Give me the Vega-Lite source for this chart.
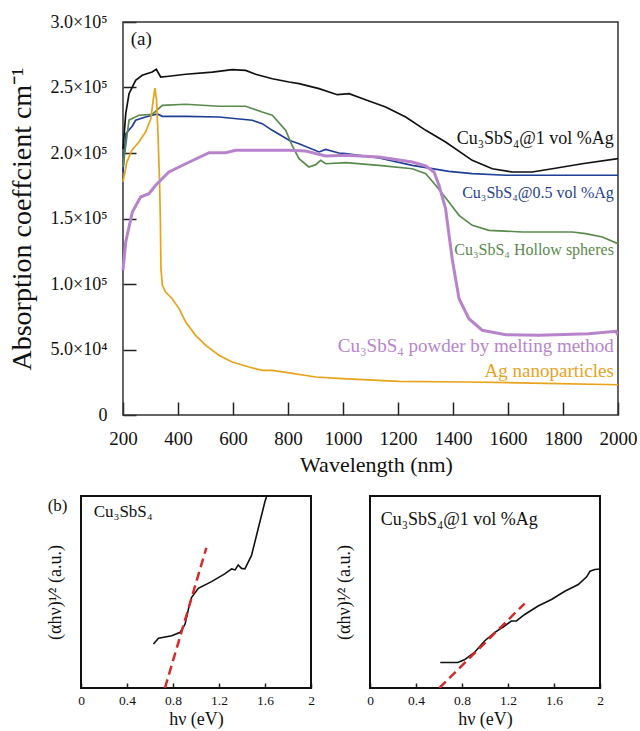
{
  "$schema": "https://vega.github.io/schema/vega-lite/v6.json",
  "background": "white",
  "padding": {"left": 8, "top": 13, "right": 0, "bottom": 0},
  "spacing": 20,
  "config": {
    "font": "Liberation Serif",
    "view": {"stroke": null},
    "axis": {"grid": false, "domain": false, "labelFont": "Liberation Serif", "titleFont": "Liberation Serif", "titleFontWeight": "normal", "labelColor": "#111", "titleColor": "#111", "tickColor": "#222", "labelFlush": false, "labelOverlap": false}
  },
  "datasets": {
    "spectra": [
      {"s": "k", "wl": 200, "a": 203000}, {"s": "k", "wl": 210, "a": 230000}, {"s": "k", "wl": 222, "a": 245300}, {"s": "k", "wl": 246, "a": 255500}, {"s": "k", "wl": 270, "a": 259300}, {"s": "k", "wl": 306, "a": 261800}, {"s": "k", "wl": 321, "a": 263900}, {"s": "k", "wl": 337, "a": 258000}, {"s": "k", "wl": 367, "a": 258600}, {"s": "k", "wl": 428, "a": 260100}, {"s": "k", "wl": 525, "a": 261800}, {"s": "k", "wl": 597, "a": 263600}, {"s": "k", "wl": 646, "a": 263100}, {"s": "k", "wl": 682, "a": 260100}, {"s": "k", "wl": 743, "a": 256700}, {"s": "k", "wl": 804, "a": 254200}, {"s": "k", "wl": 840, "a": 252900}, {"s": "k", "wl": 913, "a": 249100}, {"s": "k", "wl": 979, "a": 244500}, {"s": "k", "wl": 1022, "a": 245300}, {"s": "k", "wl": 1082, "a": 240700}, {"s": "k", "wl": 1155, "a": 235100}, {"s": "k", "wl": 1228, "a": 227500}, {"s": "k", "wl": 1301, "a": 217300}, {"s": "k", "wl": 1373, "a": 208400}, {"s": "k", "wl": 1470, "a": 194400}, {"s": "k", "wl": 1543, "a": 188000}, {"s": "k", "wl": 1616, "a": 185500}, {"s": "k", "wl": 1688, "a": 185500}, {"s": "k", "wl": 1761, "a": 188000}, {"s": "k", "wl": 1870, "a": 191800}, {"s": "k", "wl": 2000, "a": 195700},
      {"s": "b", "wl": 200, "a": 185500}, {"s": "b", "wl": 210, "a": 214700}, {"s": "b", "wl": 234, "a": 220600}, {"s": "b", "wl": 246, "a": 225000}, {"s": "b", "wl": 282, "a": 227500}, {"s": "b", "wl": 325, "a": 229800}, {"s": "b", "wl": 343, "a": 228000}, {"s": "b", "wl": 428, "a": 228000}, {"s": "b", "wl": 549, "a": 227500}, {"s": "b", "wl": 670, "a": 225000}, {"s": "b", "wl": 706, "a": 222400}, {"s": "b", "wl": 743, "a": 217300}, {"s": "b", "wl": 804, "a": 209700}, {"s": "b", "wl": 840, "a": 207100}, {"s": "b", "wl": 913, "a": 200800}, {"s": "b", "wl": 937, "a": 202700}, {"s": "b", "wl": 985, "a": 200000}, {"s": "b", "wl": 1010, "a": 199500}, {"s": "b", "wl": 1131, "a": 196200}, {"s": "b", "wl": 1252, "a": 190600}, {"s": "b", "wl": 1385, "a": 186000}, {"s": "b", "wl": 1470, "a": 184200}, {"s": "b", "wl": 1592, "a": 183000}, {"s": "b", "wl": 2000, "a": 183000},
      {"s": "g", "wl": 200, "a": 189300}, {"s": "g", "wl": 222, "a": 225200}, {"s": "g", "wl": 258, "a": 228800}, {"s": "g", "wl": 306, "a": 229500}, {"s": "g", "wl": 343, "a": 236400}, {"s": "g", "wl": 428, "a": 237200}, {"s": "g", "wl": 549, "a": 235700}, {"s": "g", "wl": 646, "a": 235700}, {"s": "g", "wl": 706, "a": 231300}, {"s": "g", "wl": 743, "a": 228800}, {"s": "g", "wl": 792, "a": 217300}, {"s": "g", "wl": 814, "a": 206100}, {"s": "g", "wl": 840, "a": 195700}, {"s": "g", "wl": 876, "a": 189300}, {"s": "g", "wl": 901, "a": 191100}, {"s": "g", "wl": 919, "a": 194400}, {"s": "g", "wl": 937, "a": 191800}, {"s": "g", "wl": 1010, "a": 192600}, {"s": "g", "wl": 1131, "a": 190600}, {"s": "g", "wl": 1252, "a": 188000}, {"s": "g", "wl": 1301, "a": 184200}, {"s": "g", "wl": 1337, "a": 175400}, {"s": "g", "wl": 1385, "a": 162600}, {"s": "g", "wl": 1422, "a": 152400}, {"s": "g", "wl": 1470, "a": 144800}, {"s": "g", "wl": 1531, "a": 141000}, {"s": "g", "wl": 1652, "a": 139700}, {"s": "g", "wl": 1834, "a": 139700}, {"s": "g", "wl": 1882, "a": 138400}, {"s": "g", "wl": 1943, "a": 135900}, {"s": "g", "wl": 2000, "a": 130800},
      {"s": "o", "wl": 200, "a": 177900}, {"s": "o", "wl": 214, "a": 193100}, {"s": "o", "wl": 233, "a": 202300}, {"s": "o", "wl": 258, "a": 208400}, {"s": "o", "wl": 282, "a": 216000}, {"s": "o", "wl": 301, "a": 226000}, {"s": "o", "wl": 309, "a": 239000}, {"s": "o", "wl": 316, "a": 249600}, {"s": "o", "wl": 322, "a": 240500}, {"s": "o", "wl": 327, "a": 216000}, {"s": "o", "wl": 333, "a": 177900}, {"s": "o", "wl": 336, "a": 147300}, {"s": "o", "wl": 338, "a": 111700}, {"s": "o", "wl": 343, "a": 99200}, {"s": "o", "wl": 355, "a": 93900}, {"s": "o", "wl": 379, "a": 88800}, {"s": "o", "wl": 404, "a": 81200}, {"s": "o", "wl": 428, "a": 71000}, {"s": "o", "wl": 464, "a": 60800}, {"s": "o", "wl": 501, "a": 53200}, {"s": "o", "wl": 549, "a": 45600}, {"s": "o", "wl": 597, "a": 40500}, {"s": "o", "wl": 658, "a": 36600}, {"s": "o", "wl": 706, "a": 34100}, {"s": "o", "wl": 743, "a": 34100}, {"s": "o", "wl": 804, "a": 32100}, {"s": "o", "wl": 901, "a": 29000}, {"s": "o", "wl": 997, "a": 27700}, {"s": "o", "wl": 1204, "a": 25700}, {"s": "o", "wl": 1446, "a": 25200}, {"s": "o", "wl": 1688, "a": 24400}, {"s": "o", "wl": 2000, "a": 23100},
      {"s": "p", "wl": 200, "a": 110500}, {"s": "p", "wl": 210, "a": 132100}, {"s": "p", "wl": 234, "a": 155000}, {"s": "p", "wl": 264, "a": 166400}, {"s": "p", "wl": 294, "a": 168900}, {"s": "p", "wl": 319, "a": 175400}, {"s": "p", "wl": 367, "a": 185500}, {"s": "p", "wl": 428, "a": 191800}, {"s": "p", "wl": 513, "a": 200200}, {"s": "p", "wl": 573, "a": 200200}, {"s": "p", "wl": 610, "a": 202100}, {"s": "p", "wl": 804, "a": 202100}, {"s": "p", "wl": 864, "a": 201500}, {"s": "p", "wl": 937, "a": 197700}, {"s": "p", "wl": 1010, "a": 198300}, {"s": "p", "wl": 1131, "a": 197000}, {"s": "p", "wl": 1252, "a": 193100}, {"s": "p", "wl": 1301, "a": 190100}, {"s": "p", "wl": 1331, "a": 185500}, {"s": "p", "wl": 1349, "a": 175400}, {"s": "p", "wl": 1373, "a": 157500}, {"s": "p", "wl": 1397, "a": 119300}, {"s": "p", "wl": 1422, "a": 88800}, {"s": "p", "wl": 1458, "a": 73500}, {"s": "p", "wl": 1506, "a": 64700}, {"s": "p", "wl": 1592, "a": 61300}, {"s": "p", "wl": 1713, "a": 60800}, {"s": "p", "wl": 1894, "a": 62100}, {"s": "p", "wl": 1992, "a": 63900}, {"s": "p", "wl": 2000, "a": 61100}
    ],
    "labels": [
      {"s": "k", "t": "Cu₃SbS₄@1 vol %Ag", "wl": 1985, "a": 210700},
      {"s": "b", "t": "Cu₃SbS₄@0.5 vol %Ag", "wl": 1985, "a": 169500},
      {"s": "g", "t": "Cu₃SbS₄ Hollow spheres", "wl": 1985, "a": 126000},
      {"s": "p", "t": "Cu₃SbS₄  powder by melting method", "wl": 1985, "a": 52700},
      {"s": "o", "t": "Ag nanoparticles", "wl": 1985, "a": 33600}
    ],
    "panelA": [{"t": "(a)", "wl": 228, "a": 287300}],
    "tauc1": [
      {"hv": 0.63, "v": 0.229}, {"hv": 0.674, "v": 0.259}, {"hv": 0.79, "v": 0.272}, {"hv": 0.862, "v": 0.29}, {"hv": 0.905, "v": 0.333}, {"hv": 0.934, "v": 0.411}, {"hv": 0.962, "v": 0.472}, {"hv": 1.02, "v": 0.519}, {"hv": 1.135, "v": 0.554}, {"hv": 1.25, "v": 0.594}, {"hv": 1.31, "v": 0.62}, {"hv": 1.34, "v": 0.615}, {"hv": 1.367, "v": 0.641}, {"hv": 1.396, "v": 0.623}, {"hv": 1.425, "v": 0.62}, {"hv": 1.482, "v": 0.689}, {"hv": 1.54, "v": 0.828}, {"hv": 1.598, "v": 0.967}, {"hv": 1.64, "v": 1.05}
    ],
    "fit1": [{"hv": 0.73, "v": 0}, {"hv": 1.09, "v": 0.73}],
    "note1": [{"t": "Cu₃SbS₄", "hv": 0.11, "v": 0.917}, {"t": "(b)", "hv": -0.29, "v": 0.95}],
    "tauc2": [
      {"hv": 0.611, "v": 0.133}, {"hv": 0.763, "v": 0.133}, {"hv": 0.821, "v": 0.147}, {"hv": 0.908, "v": 0.185}, {"hv": 0.996, "v": 0.245}, {"hv": 1.083, "v": 0.288}, {"hv": 1.17, "v": 0.323}, {"hv": 1.229, "v": 0.349}, {"hv": 1.273, "v": 0.349}, {"hv": 1.345, "v": 0.383}, {"hv": 1.462, "v": 0.427}, {"hv": 1.578, "v": 0.461}, {"hv": 1.694, "v": 0.504}, {"hv": 1.811, "v": 0.539}, {"hv": 1.884, "v": 0.579}, {"hv": 1.913, "v": 0.608}, {"hv": 1.956, "v": 0.617}, {"hv": 2.0, "v": 0.62}
    ],
    "fit2": [{"hv": 0.603, "v": 0}, {"hv": 1.345, "v": 0.44}],
    "note2": [{"t": "Cu₃SbS₄@1 vol %Ag", "hv": 0.093, "v": 0.876}]
  },
  "vconcat": [
    {
      "width": 537,
      "height": 393,
      "layer": [
        {"data": {"values": [{}]},
          "mark": {"type": "rect", "filled": false, "stroke": "#333", "strokeWidth": 1.5},
          "encoding": {"x": {"datum": 200, "type": "quantitative"}, "x2": {"datum": 2000}, "y": {"datum": 0, "type": "quantitative"}, "y2": {"datum": 300000}}},
        {"data": {"name": "spectra"}, "transform": [{"filter": "datum.s != 'p'"}],
          "mark": {"type": "line", "strokeWidth": 1.7, "clip": true},
          "encoding": {
            "x": {"field": "wl", "type": "quantitative", "scale": {"domain": [47.3, 2000], "nice": false, "zero": false},
              "axis": {"title": "Wavelength (nm)", "titleX": 295, "values": [200, 400, 600, 800, 1000, 1200, 1400, 1600, 1800, 2000], "format": "d", "tickSize": -13, "tickWidth": 1.5, "labelFontSize": 19, "labelPadding": 27, "titleFontSize": 22, "titlePadding": 6, "labelOverlap": false}},
            "y": {"field": "a", "type": "quantitative", "scale": {"domain": [0, 300000], "nice": false},
              "axis": {"title": "Absorption coeffcient cm⁻¹", "offset": -42, "values": [0, 50000, 100000, 150000, 200000, 250000, 300000], "labelExpr": "datum.value == 0 ? '0' : (datum.value < 100000 ? format(datum.value / 10000, '.1f') + '×10⁴' : format(datum.value / 100000, '.1f') + '×10⁵')", "tickSize": -13, "tickWidth": 1.5, "labelFontSize": 18, "labelPadding": 29, "titleFontSize": 28, "titlePadding": 14, "labelOverlap": false}},
            "color": {"field": "s", "type": "nominal", "scale": {"domain": ["k", "b", "g", "p", "o"], "range": ["#111111", "#1f3f96", "#5a8a4c", "#b784cc", "#e8a31c"]}, "legend": null}}},
        {"data": {"name": "spectra"}, "transform": [{"filter": "datum.s == 'p'"}],
          "mark": {"type": "line", "strokeWidth": 3, "clip": true},
          "encoding": {"x": {"field": "wl", "type": "quantitative"}, "y": {"field": "a", "type": "quantitative"}, "color": {"field": "s", "type": "nominal", "legend": null}}},
        {"data": {"name": "labels"}, "transform": [{"filter": "datum.s == 'k'"}],
          "mark": {"type": "text", "align": "right", "baseline": "middle", "fontSize": 18},
          "encoding": {"x": {"field": "wl", "type": "quantitative"}, "y": {"field": "a", "type": "quantitative"}, "text": {"field": "t"}, "color": {"field": "s", "type": "nominal", "legend": null}}},
        {"data": {"name": "labels"}, "transform": [{"filter": "datum.s == 'b' || datum.s == 'g'"}],
          "mark": {"type": "text", "align": "right", "baseline": "middle", "fontSize": 16},
          "encoding": {"x": {"field": "wl", "type": "quantitative"}, "y": {"field": "a", "type": "quantitative"}, "text": {"field": "t"}, "color": {"field": "s", "type": "nominal", "legend": null}}},
        {"data": {"name": "labels"}, "transform": [{"filter": "datum.s == 'p' || datum.s == 'o'"}],
          "mark": {"type": "text", "align": "right", "baseline": "middle", "fontSize": 19},
          "encoding": {"x": {"field": "wl", "type": "quantitative"}, "y": {"field": "a", "type": "quantitative"}, "text": {"field": "t"}, "color": {"field": "s", "type": "nominal", "legend": null}}},
        {"data": {"name": "panelA"},
          "mark": {"type": "text", "align": "left", "baseline": "middle", "fontSize": 19, "color": "#111"},
          "encoding": {"x": {"field": "wl", "type": "quantitative"}, "y": {"field": "a", "type": "quantitative"}, "text": {"field": "t"}}}
      ]
    },
    {
      "hconcat": [
        {
          "width": 230,
          "height": 192,
          "layer": [
            {"data": {"values": [{}]},
              "mark": {"type": "rect", "filled": false, "stroke": "#111", "strokeWidth": 2},
              "encoding": {"x": {"datum": 0, "type": "quantitative"}, "x2": {"datum": 2}, "y": {"datum": 0, "type": "quantitative"}, "y2": {"datum": 1}}},
            {"data": {"name": "tauc1"}, "mark": {"type": "line", "color": "#111", "strokeWidth": 1.6, "clip": true},
              "encoding": {
                "x": {"field": "hv", "type": "quantitative", "scale": {"domain": [0, 2], "nice": false},
                  "axis": {"title": "hν (eV)", "values": [0, 0.2, 0.4, 0.6, 0.8, 1, 1.2, 1.4, 1.6, 1.8, 2], "format": "~g", "tickSize": -5, "tickWidth": 1.5, "labelFontSize": 13.5, "labelPadding": 10, "titleFontSize": 18, "titlePadding": 4, "labelOverlap": false}},
                "y": {"field": "v", "type": "quantitative", "scale": {"domain": [0, 1], "nice": false},
                  "axis": {"title": "(αhν)¹⁄²  (a.u.)", "labels": false, "ticks": false, "titleFontSize": 18, "titlePadding": 17}}}},
            {"data": {"name": "fit1"}, "mark": {"type": "line", "color": "#d42a2a", "strokeWidth": 2.5, "strokeDash": [9, 5], "clip": true},
              "encoding": {"x": {"field": "hv", "type": "quantitative"}, "y": {"field": "v", "type": "quantitative"}}},
            {"data": {"name": "note1"}, "mark": {"type": "text", "align": "left", "baseline": "middle", "fontSize": 17, "color": "#111"},
              "encoding": {"x": {"field": "hv", "type": "quantitative"}, "y": {"field": "v", "type": "quantitative"}, "text": {"field": "t"}}}
          ]
        },
        {
          "width": 230,
          "height": 192,
          "layer": [
            {"data": {"values": [{}]},
              "mark": {"type": "rect", "filled": false, "stroke": "#111", "strokeWidth": 2},
              "encoding": {"x": {"datum": 0, "type": "quantitative"}, "x2": {"datum": 2}, "y": {"datum": 0, "type": "quantitative"}, "y2": {"datum": 1}}},
            {"data": {"name": "tauc2"}, "mark": {"type": "line", "color": "#111", "strokeWidth": 1.6, "clip": true},
              "encoding": {
                "x": {"field": "hv", "type": "quantitative", "scale": {"domain": [0, 2], "nice": false},
                  "axis": {"title": "hν (eV)", "values": [0, 0.2, 0.4, 0.6, 0.8, 1, 1.2, 1.4, 1.6, 1.8, 2], "format": "~g", "tickSize": -5, "tickWidth": 1.5, "labelFontSize": 13.5, "labelPadding": 10, "titleFontSize": 18, "titlePadding": 4, "labelOverlap": false}},
                "y": {"field": "v", "type": "quantitative", "scale": {"domain": [0, 1], "nice": false},
                  "axis": {"title": "(αhν)¹⁄²  (a.u.)", "labels": false, "ticks": false, "titleFontSize": 18, "titlePadding": 17}}}},
            {"data": {"name": "fit2"}, "mark": {"type": "line", "color": "#d42a2a", "strokeWidth": 2.5, "strokeDash": [9, 5], "clip": true},
              "encoding": {"x": {"field": "hv", "type": "quantitative"}, "y": {"field": "v", "type": "quantitative"}}},
            {"data": {"name": "note2"}, "mark": {"type": "text", "align": "left", "baseline": "middle", "fontSize": 18, "color": "#111"},
              "encoding": {"x": {"field": "hv", "type": "quantitative"}, "y": {"field": "v", "type": "quantitative"}, "text": {"field": "t"}}}
          ]
        }
      ],
      "spacing": 20
    }
  ]
}
